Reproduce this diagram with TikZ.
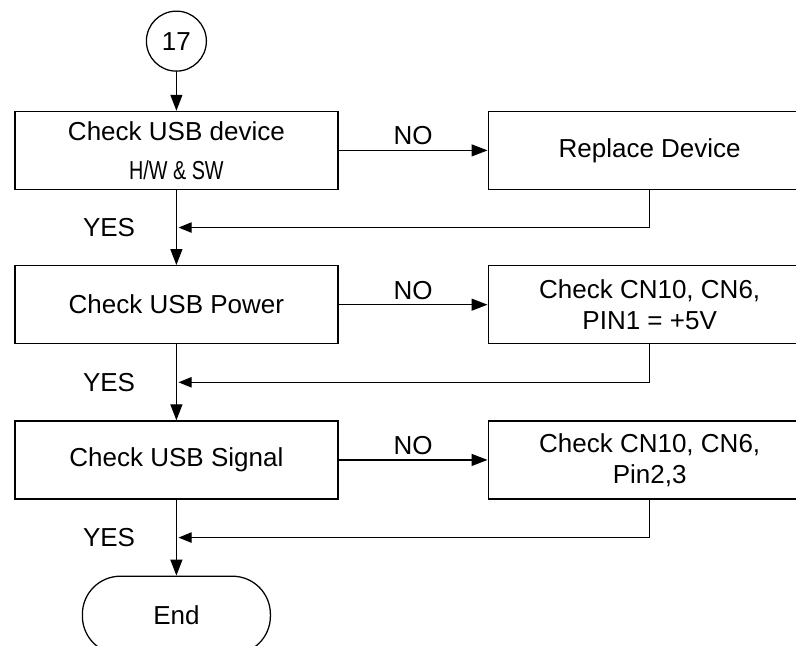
\documentclass[tikz,border=0pt]{standalone}
\usepackage{fontspec}
\usepackage{graphicx}
\setmainfont{Liberation Sans}
\usetikzlibrary{arrows.meta,positioning}

\begin{document}
\begin{tikzpicture}[
    font=\fontsize{18.5}{22}\selectfont,
    line width=0.9pt,
    node distance=1.9cm and 3.725cm,
    block/.style={draw, align=center, minimum height=1.95cm, minimum width=8.075cm},
    conn/.style={draw, circle, minimum size=1.5cm, inner sep=0pt},
    term/.style={draw, rounded corners=0.95cm, minimum height=1.95cm, minimum width=4.7cm},
    arrow/.style={-{Triangle[length=4mm, width=3mm]}},
    back/.style={-{Triangle[length=3.3mm, width=2.6mm]}, shorten >=1.5pt}
]
\useasboundingbox (-4.41,3.76) rectangle ++(19.9,-16.125);

\node[block] (usbdev) at (0,0) {Check USB device\\[6pt]\scalebox{0.76}[1]{H/W \& SW}};
\node[conn, above=0.975cm of usbdev] (start) {17};
\node[block, right=of usbdev] (replace) {Replace Device};
\node[block, below=1.875cm of usbdev] (usbpwr) {Check USB Power};
\node[block, right=of usbpwr] (pwrpin) {Check CN10, CN6,\\PIN1 = +5V};
\node[block, below=of usbpwr] (usbsig) {Check USB Signal};
\node[block, right=of usbsig] (sigpin) {Check CN10, CN6,\\Pin2,3};
\node[term, below=of usbsig] (end) {End};

\draw[arrow] (start) -- (usbdev);
\draw[arrow] (usbdev) -- node[above] {NO} (replace);
\draw[arrow] (usbdev) -- coordinate (m1) node[left=0.9cm] {YES} (usbpwr);
\draw[back] (replace) |- (m1);
\draw[arrow] (usbpwr) -- node[above] {NO} (pwrpin);
\draw[arrow] (usbpwr) -- coordinate (m2) node[left=0.9cm] {YES} (usbsig);
\draw[back] (pwrpin) |- (m2);
\draw[arrow] (usbsig) -- node[above] {NO} (sigpin);
\draw[arrow] (usbsig) -- coordinate (m3) node[left=0.9cm] {YES} (end);
\draw[back] (sigpin) |- (m3);
\end{tikzpicture}
\end{document}
